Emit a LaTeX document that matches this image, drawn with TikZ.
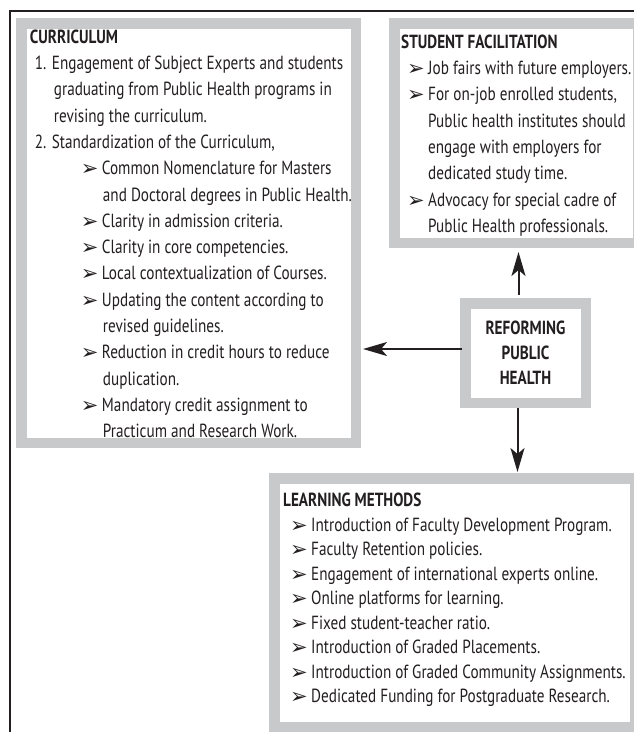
\documentclass[tikz,border=0pt]{standalone}
\usepackage{fontspec}
\setmainfont[FakeStretch=0.8]{PT Sans}
\newfontfamily\symfont{DejaVu Sans}
\usetikzlibrary{arrows.meta,positioning}

\definecolor{boxgray}{RGB}{200,201,203}
\definecolor{inkblack}{RGB}{35,31,32}

\newcommand{\pointer}{{\symfont\fontsize{21}{21}\selectfont ➢}}
\newcommand{\bitem}[2]{\hspace*{#1}\makebox[21pt][l]{\raisebox{-1pt}{\pointer}}#2}

\begin{document}
\begin{tikzpicture}[x=1pt,y=-1pt,
  panel/.style={draw=boxgray,line width=10.5pt,fill=white,inner sep=0pt,outer sep=5.25pt,anchor=north west},
  paneltext/.style={anchor=north west,inner sep=0pt,align=left,text=inkblack,font=\fontsize{19}{26.3}\selectfont},
  flow/.style={draw=inkblack,line width=2pt,-{Stealth[length=24pt,width=14pt,inset=6pt]}}]
\useasboundingbox (0,0) rectangle (634,732);
\clip (0,0) rectangle (634,732);

% The frame
\draw[inkblack,line width=1.5pt] (10,740) -- (10,11) -- (640,11);

% The boxes
\node[panel,minimum width=334.5pt,minimum height=419.5pt] (curr) at (16,18) {};
\node[panel,minimum width=243.5pt,minimum height=219.5pt] (stud) at (389,18) {};
\node[panel,minimum width=120.5pt,minimum height=99.5pt,align=center,text=inkblack,
  font=\fontsize{19}{25}\selectfont\bfseries] (reform) at (460,298) {REFORMING\\PUBLIC\\HEALTH};
\node[panel,minimum width=361pt,minimum height=249pt] (learn) at (269,473) {};

% Texts in the boxes
\node[paneltext,below right=11.5pt and 13.75pt of curr.north west] (currtext) {%
  \textbf{CURRICULUM}\\
  \hspace*{5pt}1. Engagement of Subject Experts and students\\
  \hspace*{24pt}graduating from Public Health programs in\\
  \hspace*{24pt}revising the curriculum.\\
  \hspace*{5pt}2. Standardization of the Curriculum,\\
  \bitem{51pt}{Common Nomenclature for Masters}\\
  \hspace*{73pt}and Doctoral degrees in Public Health.\\
  \bitem{51pt}{Clarity in admission criteria.}\\
  \bitem{51pt}{Clarity in core competencies.}\\
  \bitem{51pt}{Local contextualization of Courses.}\\
  \bitem{51pt}{Updating the content according to}\\
  \hspace*{73pt}revised guidelines.\\
  \bitem{51pt}{Reduction in credit hours to reduce}\\
  \hspace*{73pt}duplication.\\
  \bitem{51pt}{Mandatory credit assignment to}\\
  \hspace*{73pt}Practicum and Research Work.};

\node[paneltext,below right=16.5pt and 12pt of stud.north west] (studtext) {%
  \textbf{STUDENT FACILITATION}\\
  \bitem{6pt}{Job fairs with future employers.}\\
  \bitem{6pt}{For on-job enrolled students,}\\
  \hspace*{27pt}Public health  institutes should\\
  \hspace*{27pt}engage with employers for\\
  \hspace*{27pt}dedicated study time.\\
  \bitem{6pt}{Advocacy for special cadre of}\\
  \hspace*{27pt}Public Health professionals.};

\node[paneltext,font=\fontsize{19}{24.5}\selectfont,below right=20pt and 14pt of learn.north west] (learntext) {%
  \textbf{LEARNING METHODS}\\
  \bitem{7pt}{Introduction of Faculty Development Program.}\\
  \bitem{7pt}{Faculty Retention policies.}\\
  \bitem{7pt}{Engagement of international experts online.}\\
  \bitem{7pt}{Online platforms for learning.}\\
  \bitem{7pt}{Fixed student-teacher ratio.}\\
  \bitem{7pt}{Introduction of Graded Placements.}\\
  \bitem{7pt}{Introduction of Graded Community Assignments.}\\
  \bitem{7pt}{Dedicated Funding for Postgraduate Research.}};

% The arrows
\draw[flow,shorten <=3pt,shorten >=4pt] ([xshift=-7pt]reform.north) -- ([xshift=-7pt]reform.north |- stud.south);
\draw[flow,shorten <=-2pt,shorten >=2pt] ([yshift=4pt]reform.west) -- ([yshift=4pt]reform.west -| curr.east);
\draw[flow,shorten >=1pt] ([xshift=-8pt]reform.south) -- ([xshift=-8pt]reform.south |- learn.north);

\end{tikzpicture}
\end{document}
